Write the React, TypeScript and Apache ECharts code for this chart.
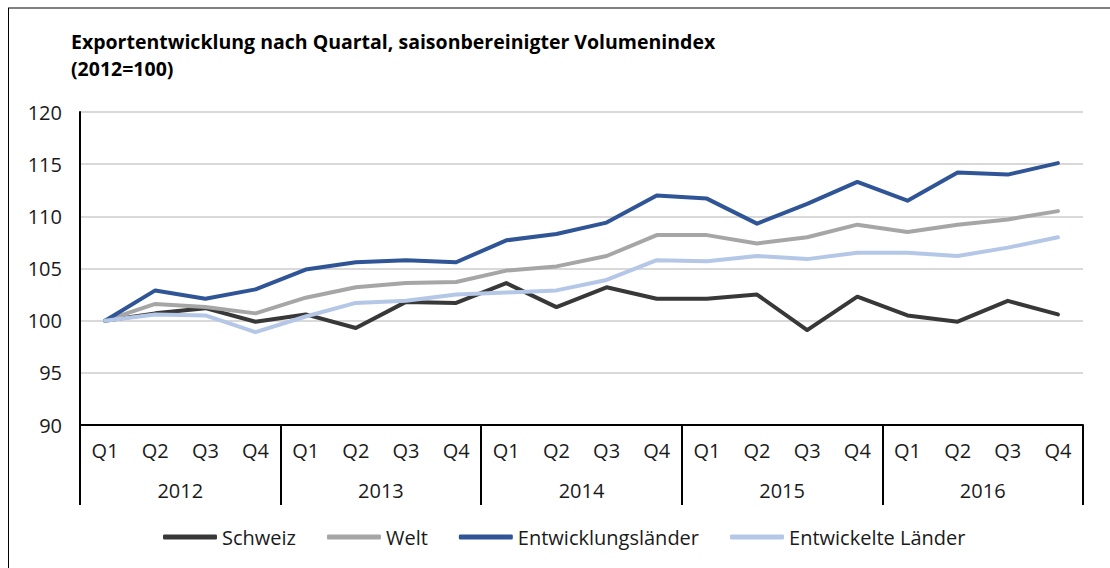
import React, { useEffect, useRef } from "react";
import * as echarts from "echarts";

const quarters = ["Q1", "Q2", "Q3", "Q4", "Q1", "Q2", "Q3", "Q4", "Q1", "Q2", "Q3", "Q4", "Q1", "Q2", "Q3", "Q4", "Q1", "Q2", "Q3", "Q4"];
const years = ["2012", "2013", "2014", "2015", "2016"];
const yTicks = { min: 90, max: 120, interval: 5 };

const schweiz = [100, 100.7, 101.2, 99.9, 100.6, 99.3, 101.8, 101.7, 103.6, 101.3, 103.2, 102.1, 102.1, 102.5, 99.1, 102.3, 100.5, 99.9, 101.9, 100.6];
const welt = [100, 101.6, 101.3, 100.7, 102.2, 103.2, 103.6, 103.7, 104.8, 105.2, 106.2, 108.2, 108.2, 107.4, 108.0, 109.2, 108.5, 109.2, 109.7, 110.5];
const entwicklungslaender = [100, 102.9, 102.1, 103.0, 104.9, 105.6, 105.8, 105.6, 107.7, 108.3, 109.4, 112.0, 111.7, 109.3, 111.2, 113.3, 111.5, 114.2, 114.0, 115.1];
const entwickelteLaender = [100, 100.6, 100.5, 98.9, 100.4, 101.7, 101.9, 102.5, 102.7, 102.9, 103.9, 105.8, 105.7, 106.2, 105.9, 106.5, 106.5, 106.2, 107.0, 108.0];

const seriesNames = ["Schweiz", "Welt", "Entwicklungsländer", "Entwickelte Länder"];
const seriesData = [schweiz, welt, entwicklungslaender, entwickelteLaender];
const seriesColors = ["#383838", "#a6a6a6", "#2f5597", "#b4c7e7"];

const FONT = "'Open Sans', 'Noto Sans', sans-serif";

export default function App() {
  const ref = useRef<HTMLDivElement>(null);
  useEffect(() => {
    if (!ref.current) return;
    const chart = echarts.init(ref.current, null, { renderer: "svg" });
    chart.setOption({
      animation: false,
      backgroundColor: "#ffffff",
      textStyle: { fontFamily: FONT },
      title: {
        text: "Exportentwicklung nach Quartal, saisonbereinigter Volumenindex",
        subtext: "(2012=100)",
        left: 71,
        top: 31,
        padding: 0,
        itemGap: 7,
        textStyle: { fontFamily: FONT, fontSize: 19.5, fontWeight: "bold", color: "#000", lineHeight: 20 },
        subtextStyle: { fontFamily: FONT, fontSize: 19.5, fontWeight: "bold", color: "#000", lineHeight: 20 },
      },
      graphic: [
        { type: "line", shape: { x1: 8, y1: 8, x2: 1110, y2: 8 }, style: { stroke: "#808080", lineWidth: 2 } },
        { type: "line", shape: { x1: 8.5, y1: 8, x2: 8.5, y2: 568 }, style: { stroke: "#000", lineWidth: 1 } },
      ],
      legend: {
        top: 527,
        left: 163,
        padding: 0,
        itemWidth: 54,
        itemHeight: 5,
        itemGap: 31,
        icon: "roundRect",
        textStyle: { fontFamily: FONT, fontSize: 20, color: "#1a1a1a" },
        data: seriesNames,
      },
      grid: { left: 80, right: 27, top: 112, bottom: 143, containLabel: false },
      xAxis: [
        {
          type: "category",
          data: quarters,
          boundaryGap: true,
          axisLine: { show: true, lineStyle: { color: "#000", width: 2 } },
          axisTick: { show: false },
          axisLabel: { fontFamily: FONT, fontSize: 20, color: "#1a1a1a", margin: 15, interval: 0 },
          splitLine: { show: false },
        },
        {
          type: "category",
          data: years,
          position: "bottom",
          boundaryGap: true,
          axisLine: { show: false },
          axisTick: { show: true, length: 80, lineStyle: { color: "#000", width: 2 }, alignWithLabel: false, interval: 0 },
          axisLabel: { fontFamily: FONT, fontSize: 20, color: "#1a1a1a", margin: 55, interval: 0 },
          splitLine: { show: false },
        },
      ],
      yAxis: {
        type: "value",
        min: yTicks.min,
        max: yTicks.max,
        interval: yTicks.interval,
        axisLine: { show: true, lineStyle: { color: "#000", width: 2 } },
        axisTick: { show: false },
        axisLabel: { fontFamily: FONT, fontSize: 20, color: "#1a1a1a", margin: 18 },
        splitLine: { show: true, lineStyle: { color: "#d9d9d9", width: 2 } },
      },
      series: seriesNames.map((name, i) => ({
        name,
        type: "line",
        xAxisIndex: 0,
        data: seriesData[i],
        showSymbol: false,
        symbol: "none",
        color: seriesColors[i],
        lineStyle: { color: seriesColors[i], width: 4, cap: "round", join: "round" },
      })),
    });
    return () => chart.dispose();
  }, []);
  return <div ref={ref} style={{ position: "fixed", left: 0, top: 0, width: 1110, height: 568 }} />;
}
